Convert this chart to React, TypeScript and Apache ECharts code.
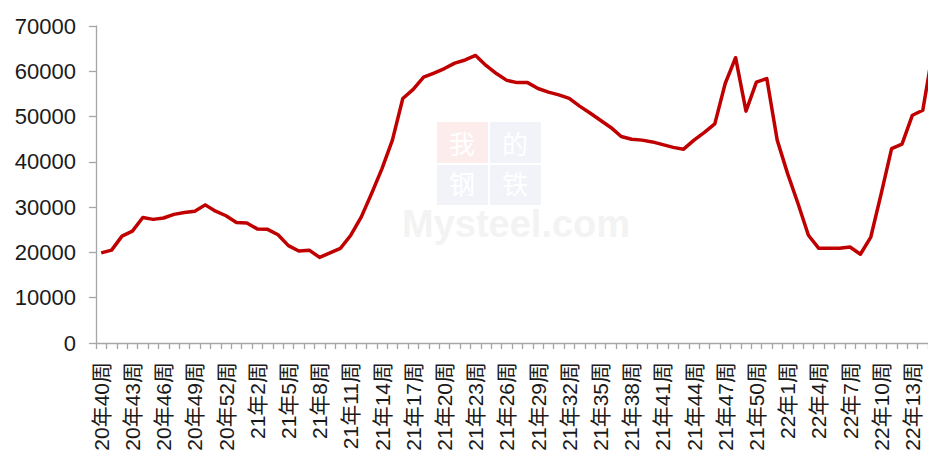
import React, { useEffect, useRef } from "react";
import * as echarts from "echarts";

// Week labels: 2020 wk40-53, 2021 wk1-52, 2022 wk1-15
const weeks2020 = [40, 41, 42, 43, 44, 45, 46, 47, 48, 49, 50, 51, 52, 53];
const weeks2021 = [
  1, 2, 3, 4, 5, 6, 7, 8, 9, 10, 11, 12, 13, 14, 15, 16, 17, 18, 19, 20, 21, 22, 23, 24, 25, 26,
  27, 28, 29, 30, 31, 32, 33, 34, 35, 36, 37, 38, 39, 40, 41, 42, 43, 44, 45, 46, 47, 48, 49, 50, 51, 52,
];
const weeks2022 = [1, 2, 3, 4, 5, 6, 7, 8, 9, 10, 11, 12, 13, 14, 15];

const categories: string[] = [
  ...weeks2020.map((w) => `20年${w}周`),
  ...weeks2021.map((w) => `21年${w}周`),
  ...weeks2022.map((w) => `22年${w}周`),
];

const values: number[] = [
  19900, 20500, 23600, 24700, 27700, 27300, 27600, 28400, 28800, 29100,
  30500, 29100, 28100, 26600, 26500, 25200, 25100, 23900, 21500, 20300,
  20500, 18900, 19900, 20900, 23800, 27800, 33000, 38500, 44800, 54000,
  56000, 58700, 59600, 60600, 61800, 62500, 63500, 61300, 59500, 58000,
  57500, 57500, 56200, 55400, 54800, 54000, 52300, 50800, 49200, 47600,
  45600, 45000, 44800, 44400, 43800, 43200, 42800, 44800, 46500, 48400,
  57300, 63000, 51200, 57600, 58400, 44800, 37400, 30800, 23800, 20900,
  20900, 20900, 21200, 19600, 23400, 33000, 42900, 43900, 50300, 51400,
  65000,
];

const yTicks = { min: 0, max: 70000, interval: 10000 };

const FONT = '"Liberation Sans", "Noto Sans CJK SC", sans-serif';

export default function App() {
  const ref = useRef<HTMLDivElement>(null);
  useEffect(() => {
    if (!ref.current) return;
    const chart = echarts.init(ref.current, undefined, { renderer: "svg" });
    const chartWidth = 940;
    const catW = 10.4;
    const wmChar = (t: string, x: number, y: number) => ({
      type: "text",
      style: {
        text: t, x, y, fontSize: 26, fontFamily: "Noto Sans CJK SC",
        fill: "#ffffff", align: "center", verticalAlign: "middle",
      },
    });
    chart.setOption({
      animation: false,
      backgroundColor: "#ffffff",
      grid: {
        left: 96,
        top: 26,
        bottom: 116,
        right: chartWidth - 96 - categories.length * catW,
      },
      graphic: [
        {
          type: "group",
          z: -10,
          silent: true,
          children: [
            { type: "rect", shape: { x: 437, y: 122, width: 51, height: 41 }, style: { fill: "#fcecec" } },
            { type: "rect", shape: { x: 490, y: 122, width: 51, height: 41 }, style: { fill: "#f1f3f9" } },
            { type: "rect", shape: { x: 437, y: 165, width: 51, height: 40 }, style: { fill: "#f1f3f9" } },
            { type: "rect", shape: { x: 490, y: 165, width: 51, height: 40 }, style: { fill: "#f1f3f9" } },
            wmChar("我", 462, 142),
            wmChar("的", 515, 142),
            wmChar("钢", 462, 182),
            wmChar("铁", 515, 182),
            { type: "text", style: { text: "Mysteel.com", x: 402, y: 224, fontSize: 38, fontWeight: "bold", fontFamily: '"Liberation Sans", sans-serif', fill: "#f3f3f3", verticalAlign: "middle" } },
          ],
        },
      ],
      xAxis: {
        type: "category",
        data: categories,
        boundaryGap: true,
        axisLine: { show: true, lineStyle: { color: "#a6a6a6", width: 1.3 } },
        axisTick: { show: true, interval: 0, length: 6, lineStyle: { color: "#a6a6a6", width: 1.3 } },
        axisLabel: {
          interval: 2,
          rotate: 90,
          margin: 19,
          fontSize: 21,
          color: "#1a1a1a",
          fontFamily: FONT,
        },
        splitLine: { show: false },
      },
      yAxis: {
        type: "value",
        min: yTicks.min,
        max: yTicks.max,
        interval: yTicks.interval,
        axisLine: { show: true, lineStyle: { color: "#a6a6a6", width: 1.3 } },
        axisTick: { show: true, length: 7, lineStyle: { color: "#a6a6a6", width: 1.3 } },
        axisLabel: {
          margin: 20, fontSize: 22, color: "#1a1a1a", fontFamily: FONT,
          formatter: (v: number) => String(v),
        },
        splitLine: { show: false },
      },
      series: [
        {
          type: "line",
          data: values,
          symbol: "none",
          showSymbol: false,
          smooth: false,
          lineStyle: { color: "#c00000", width: 3.5, join: "round" },
          itemStyle: { color: "#c00000" },
          z: 5,
        },
      ],
    });
    return () => chart.dispose();
  }, []);
  return (
    <div
      style={{ position: "fixed", left: 0, top: 0, width: 928, height: 459, overflow: "hidden", background: "#fff" }}
    >
      <div ref={ref} style={{ width: 940, height: 459 }} />
    </div>
  );
}
